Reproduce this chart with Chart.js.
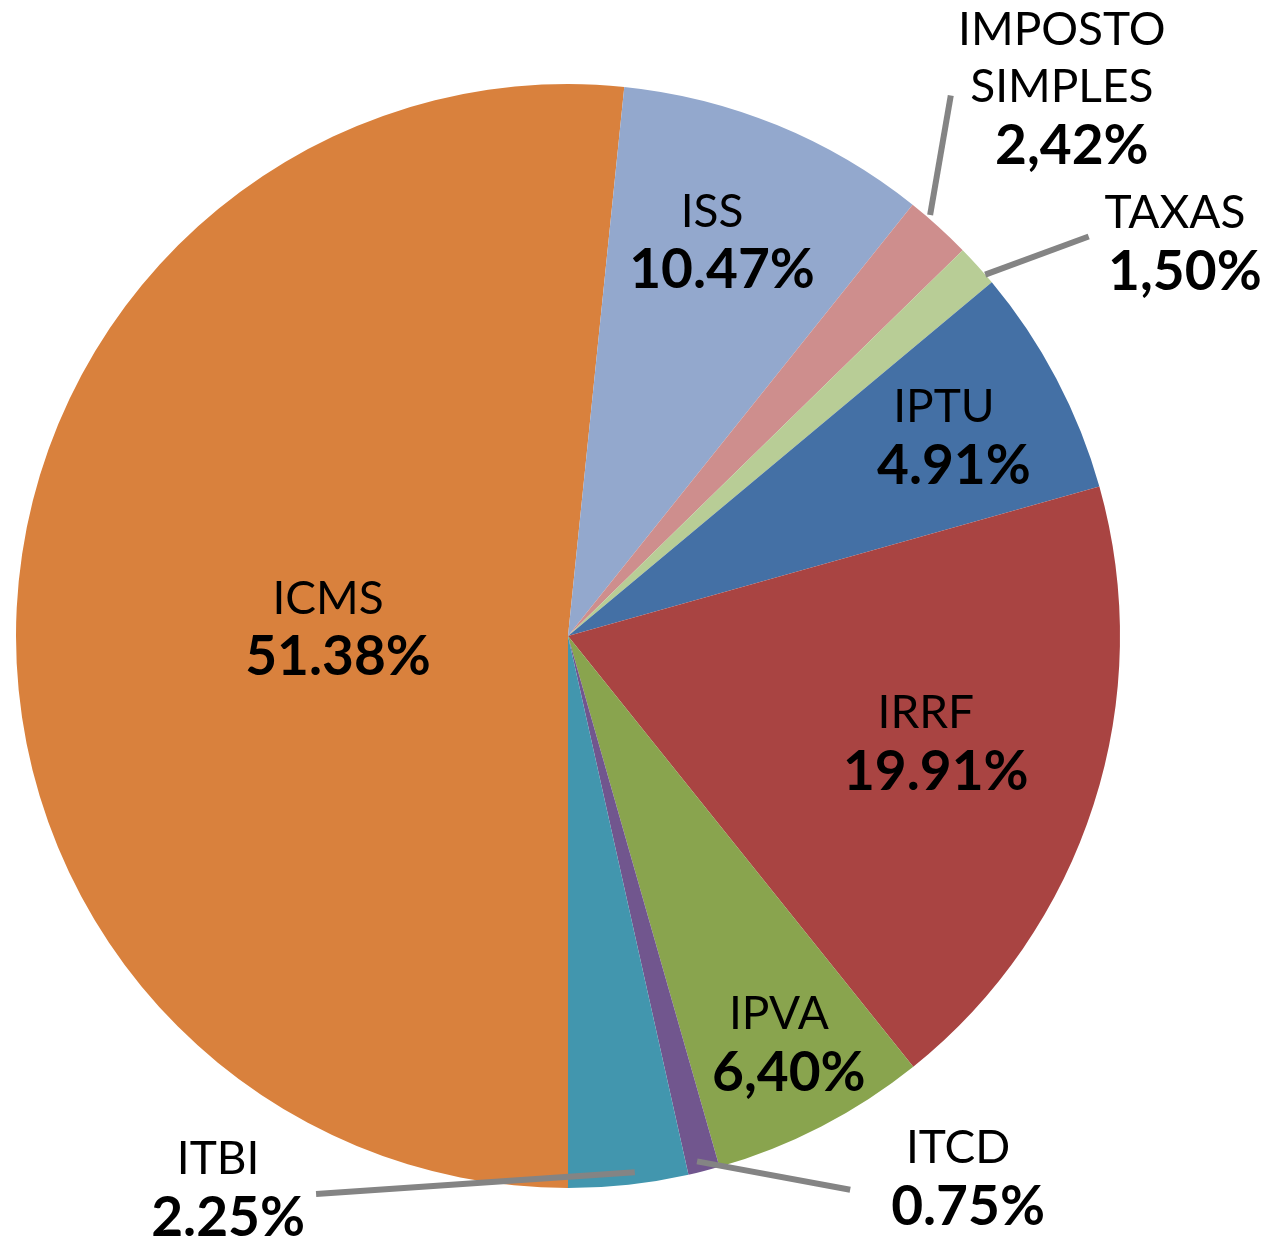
<!DOCTYPE html>
<html><head><meta charset="utf-8">
<script src="https://cdn.jsdelivr.net/npm/chart.js@4/dist/chart.umd.min.js"></script>
<style>html,body{margin:0;padding:0;background:#fff}canvas{display:block}</style>
</head><body>
<canvas id="c" width="1270" height="1236"></canvas>
<script>
// Data (slice sizes, % of the circle)
const categories = ['ICMS','ISS','IMPOSTO SIMPLES','TAXAS','IPTU','IRRF','IPVA','ITCD','ITBI'];
const sliceValues = [51.6, 9.1, 1.95, 1.25, 6.7, 18.6, 6.33, 0.92, 3.5];
// Percent labels as printed in the chart
const percentLabels = ['51.38%','10.47%','2,42%','1,50%','4.91%','19.91%','6,40%','0.75%','2.25%'];
const nameLines = [['ICMS'],['ISS'],['IMPOSTO','SIMPLES'],['TAXAS'],['IPTU'],['IRRF'],['IPVA'],['ITCD'],['ITBI']];

const colors = ['#D9813D','#93A8CD','#CE8E8D','#B8CD96','#4470A5','#A94442','#89A44E','#71568E','#4296AE'];
// label placement: polar (deg clockwise from top, radius fraction) of text block centre
const labelPos = [[272.1,0.435],[20.0,0.763],[42.0,1.337],[57.0,1.311],[61.9,0.772],[106.5,0.676],[152.6,0.83],[144.2,1.208],[212.4,1.183]];
// leader lines (start polar, end polar) or null
const leaders = [null,null,[[40.7,1.006],[35.3,1.2]],[[49.1,1.0],[52.5,1.189]],null,null,null,[[166.2,0.98],[153.0,1.126]],[[172.9,0.979],[204.3,1.109]]];

function pt(cx,cy,R,p){const a=p[0]*Math.PI/180;return [cx+Math.sin(a)*R*p[1], cy-Math.cos(a)*R*p[1]];}

const labelPlugin = {
  id:'labels',
  afterDatasetsDraw(chart){
    const ctx = chart.ctx;
    const arc = chart.getDatasetMeta(0).data[0];
    const cx = arc.x, cy = arc.y, R = arc.outerRadius;
    ctx.save();
    ctx.strokeStyle = '#848484'; ctx.lineWidth = 6; ctx.lineCap='butt';
    leaders.forEach(l=>{ if(!l) return; const a=pt(cx,cy,R,l[0]), b=pt(cx,cy,R,l[1]);
      ctx.beginPath(); ctx.moveTo(a[0],a[1]); ctx.lineTo(b[0],b[1]); ctx.stroke(); });
    ctx.fillStyle = '#000'; ctx.textAlign='center'; ctx.textBaseline='middle';
    const lh = 57;
    categories.forEach((c,i)=>{
      const lines = nameLines[i];
      const n = lines.length + 1;
      const p = pt(cx,cy,R,labelPos[i]);
      let y = p[1] - (n-1)*lh/2;
      ctx.font = '46px Lato';
      lines.forEach(t=>{ ctx.fillText(t, p[0], y); y += lh; });
      ctx.font = 'bold 55px Lato';
      ctx.fillText(percentLabels[i], p[0]+10, y+2);
    });
    ctx.restore();
  }
};

new Chart(document.getElementById('c'), {
  type:'pie',
  data:{ labels:categories, datasets:[{ data:sliceValues, backgroundColor:colors, borderWidth:0, radius:552 }]},
  options:{
    responsive:false, animation:false, rotation:180,
    layout:{padding:{left:0,right:134,top:36,bottom:0}},
    plugins:{legend:{display:false}, tooltip:{enabled:false}}
  },
  plugins:[labelPlugin]
});
</script>
</body></html>
